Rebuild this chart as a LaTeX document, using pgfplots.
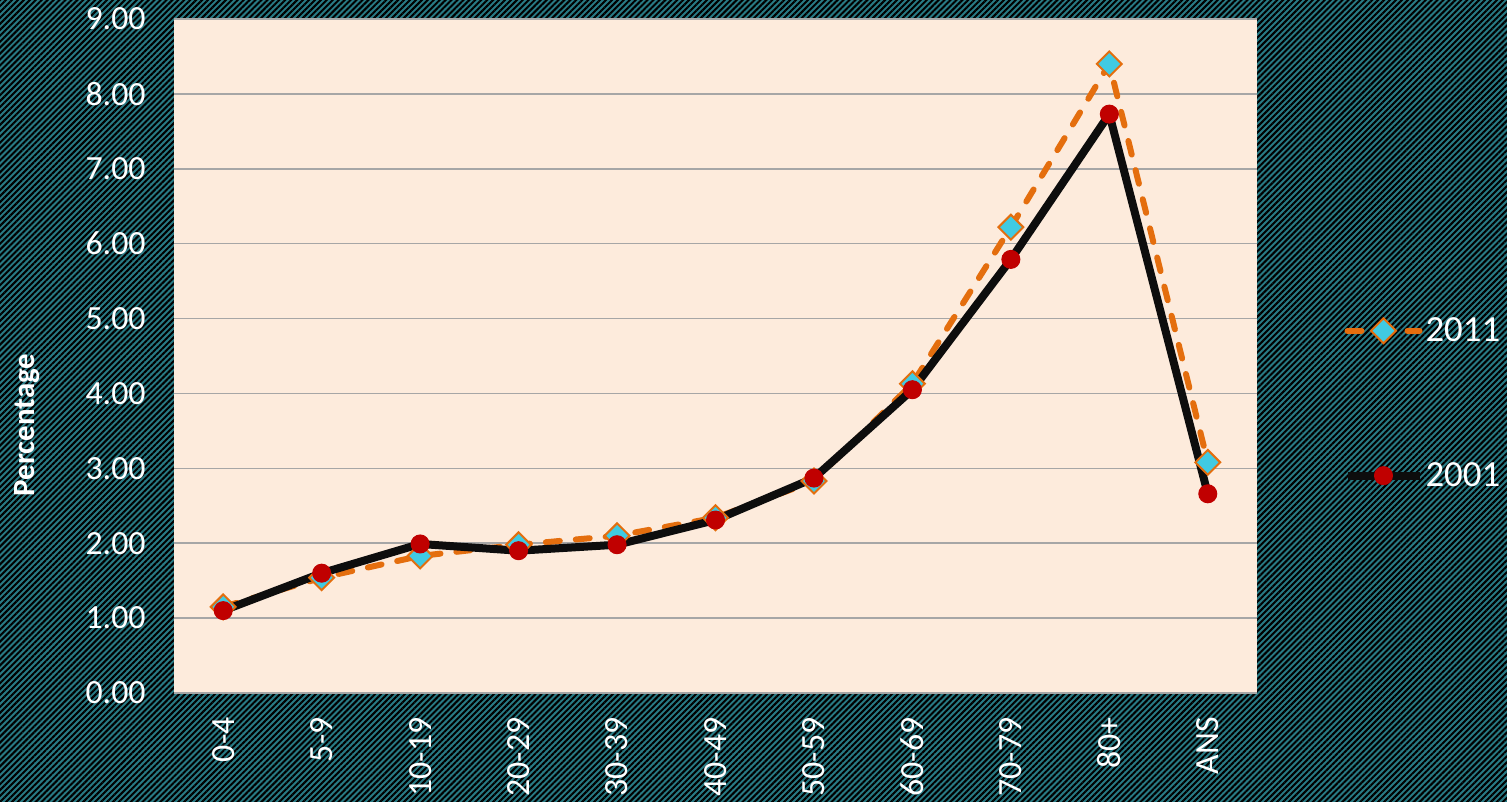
\documentclass[border=0pt]{standalone}
\usepackage{pgfplots}
\pgfplotsset{compat=1.18}
\usepackage{fontspec}
\setmainfont{Carlito}
\usetikzlibrary{patterns.meta}
\definecolor{tealbg}{RGB}{40,122,132}
\definecolor{peach}{RGB}{253,235,220}
\definecolor{gridgray}{RGB}{166,166,166}
\definecolor{xlorange}{RGB}{228,110,14}
\definecolor{xlcyan}{RGB}{64,202,226}
\definecolor{xlred}{RGB}{192,0,0}
\definecolor{xlblack}{RGB}{13,13,13}
\begin{document}
\begin{tikzpicture}
\useasboundingbox (0,0) rectangle (753.5bp,401bp);
\clip (0,0) rectangle (753.5bp,401bp);
\fill[tealbg] (0,0) rectangle (753.5bp,401bp);
\fill[pattern={Lines[angle=45,distance=2.1bp,line width=1.0bp]},pattern color=black] (-5bp,-5bp) rectangle (760bp,410bp);
\begin{axis}[
  at={(87bp,54.5bp)}, anchor=south west,
  width=541.5bp, height=337bp, scale only axis,
  xmin=-0.5, xmax=10.5, ymin=0, ymax=9,
  xtick={0,...,10},
  xticklabels={0-4,5-9,10-19,20-29,30-39,40-49,50-59,60-69,70-79,80+,ANS},
  ytick={0,1,...,9},
  yticklabel={\pgfmathprintnumber[fixed,fixed zerofill,precision=2]{\tick}},
  /pgf/number format/assume math mode=true,
  axis background/.style={fill=peach},
  axis line style={draw=none},
  major tick length=0pt,
  ymajorgrids, grid style={gridgray,line width=0.8bp},
  tick label style={font=\fontsize{17}{20}\selectfont, text=white},
  xticklabel style={yshift=-12bp, rotate=90, anchor=east, inner sep=0pt},
  yticklabel style={xshift=-14bp, anchor=east, inner sep=0pt},
  legend style={at={(rel axis cs:1.0795,0.43)}, anchor=west, draw=none, fill=none,
    font=\fontsize{18.5}{22}\selectfont, text=white, row sep=57bp, inner sep=0pt,
    nodes={inner sep=1bp}},
  legend cell align=left,
  legend image code/.code={\draw[#1,mark repeat=2,mark phase=2] plot coordinates {(0bp,0bp)(18bp,0bp)(36bp,0bp)};},
]
\addplot[xlorange, line width=3bp, line cap=round, dash pattern=on 7bp off 8bp,
  mark=square*, mark size=4.4bp,
  mark options={solid, rotate=45, fill=xlcyan, draw=xlorange, line width=1bp}]
  coordinates {(0,1.15)(1,1.54)(2,1.83)(3,1.98)(4,2.10)(5,2.34)(6,2.83)(7,4.13)(8,6.22)(9,8.40)(10,3.08)};
\addlegendentry{2011}
\addplot[xlblack, line width=4bp, line join=round,
  mark=*, mark size=4.5bp,
  mark options={solid, fill=xlred, draw=xlred, line width=0.5bp}]
  coordinates {(0,1.10)(1,1.60)(2,1.99)(3,1.90)(4,1.98)(5,2.31)(6,2.87)(7,4.05)(8,5.79)(9,7.73)(10,2.66)};
\addlegendentry{2001}
\end{axis}
\node[rotate=90, text=white, font=\bfseries\fontsize{15.5}{18}\selectfont] at (13.5bp,188.5bp) {Percentage};
\end{tikzpicture}
\end{document}
